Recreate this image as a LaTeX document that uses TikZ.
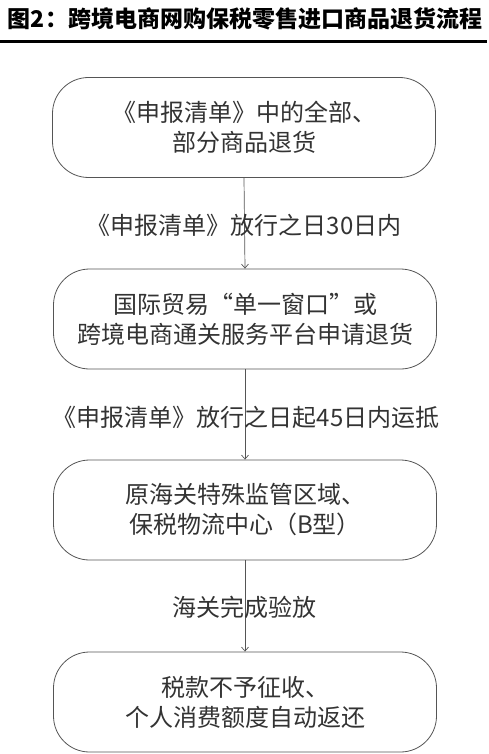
\documentclass[tikz,border=0pt]{standalone}
\usepackage{fontspec}
\newfontfamily\cjk{Noto Sans CJK SC}
\usetikzlibrary{arrows.meta}
\definecolor{txtgray}{HTML}{333333}
\definecolor{linegray}{HTML}{555555}
\tikzset{
  flowbox/.style={draw=linegray, line width=0.8pt, rounded corners=36pt,
    minimum width=383pt, minimum height=100pt, align=center, text=txtgray,
    font=\cjk\fontsize{24}{30}\selectfont, inner sep=0pt},
  flowlabel/.style={text=txtgray, font=\cjk\fontsize{24}{30}\selectfont, inner sep=0pt},
  flowarrow/.style={draw=linegray, line width=0.7pt, -{Straight Barb[length=4pt,width=7pt]}},
}
\begin{document}
\begin{tikzpicture}[x=1pt,y=1pt]
\useasboundingbox (0,0) rectangle (489,-754);
\node[font=\cjk\bfseries\fontsize{23}{26}\selectfont, text=black, inner sep=0pt] (title) at (245,-19) {图2：跨境电商网购保税零售进口商品退货流程};
\draw[line width=3.5pt] (0,-41.5) -- (487,-41.5);
\node[flowbox] (b1) at (244,-127.5) {《申报清单》中的全部、\\部分商品退货};
\node[flowbox] (b2) at (245,-319) {国际贸易“单一窗口”或\\跨境电商通关服务平台申请退货};
\node[flowbox] (b3) at (245,-510) {原海关特殊监管区域、\\保税物流中心（B型）};
\node[flowbox] (b4) at (245,-702) {税款不予征收、\\个人消费额度自动返还};
\draw[flowarrow] (b1.south) -- (b2.north);
\draw[flowarrow] (b2.south) -- (b3.north);
\draw[flowarrow] (b3.south) -- (b4.north);
\node[flowlabel] (l1) at (244,-225) {《申报清单》放行之日30日内};
\node[flowlabel] (l2) at (246,-417) {《申报清单》放行之日起45日内运抵};
\node[flowlabel] (l3) at (244,-607) {海关完成验放};
\end{tikzpicture}
\end{document}
